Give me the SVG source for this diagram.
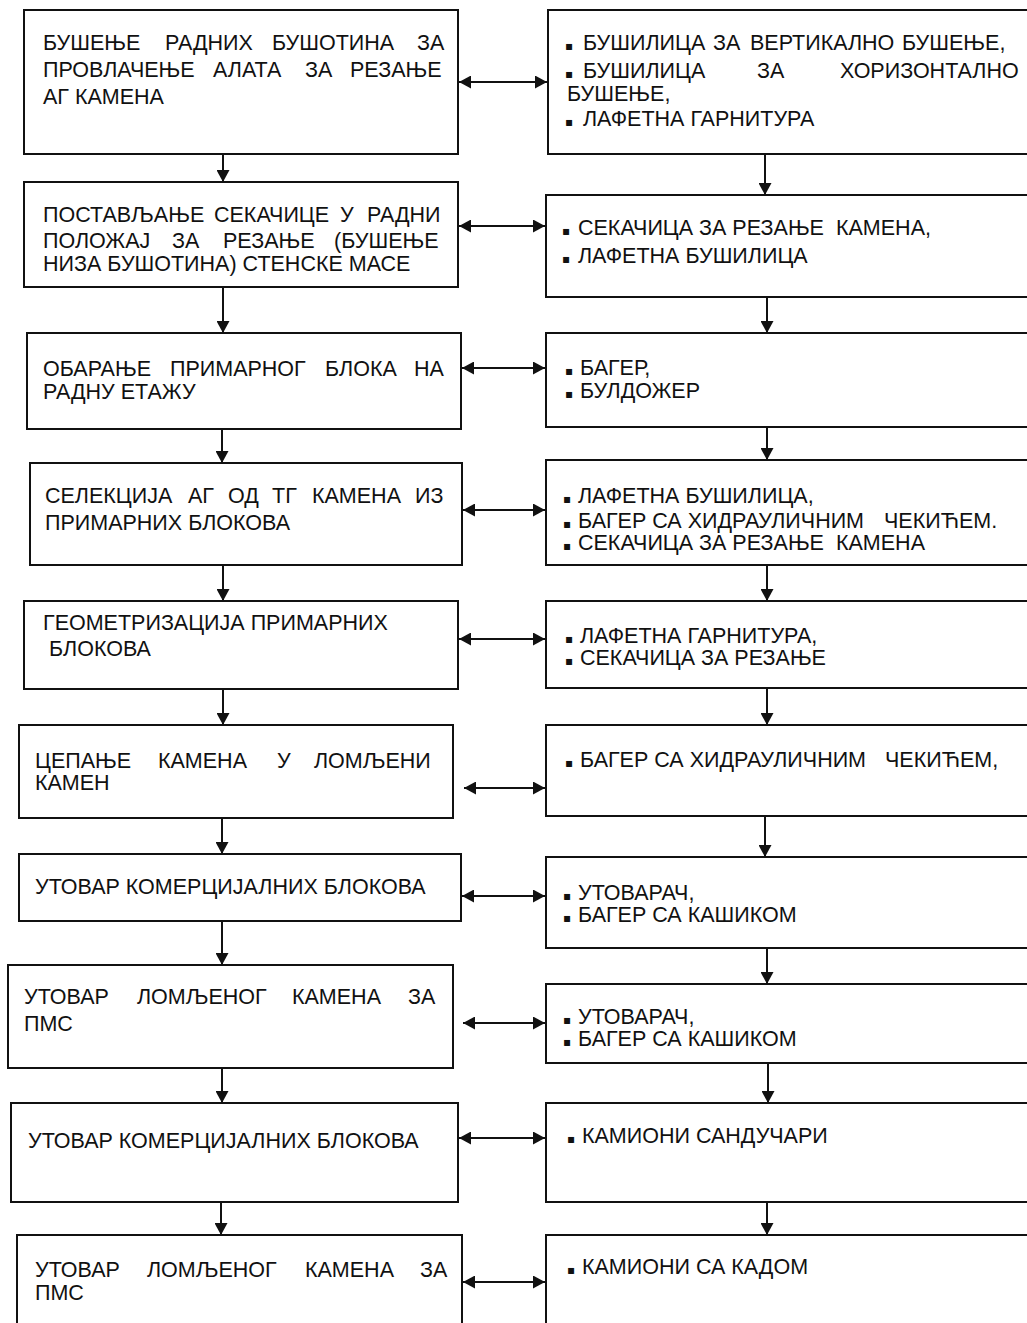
<svg xmlns="http://www.w3.org/2000/svg" width="1027" height="1323" viewBox="0 0 1027 1323">
<style>
.box{fill:#fff;stroke:#111;stroke-width:2}
.t{font-family:"Liberation Sans",Arial,sans-serif;font-size:21.5px;fill:#111}
.b{font-family:"DejaVu Sans",sans-serif;font-size:12px}
.c{stroke:#111;stroke-width:2;fill:none}
</style>
<defs>
<marker id="ah" markerUnits="userSpaceOnUse" markerWidth="13" markerHeight="13" refX="12" refY="6.5" orient="auto-start-reverse">
<path d="M0,0 L12,6.5 L0,13 z" fill="#111"/>
</marker>
</defs>
<rect width="1027" height="1323" fill="#fff"/>

<g id="connectors">
<line class="c" x1="223" y1="154" x2="223" y2="182" marker-end="url(#ah)"/>
<line class="c" x1="223" y1="287" x2="223" y2="333" marker-end="url(#ah)"/>
<line class="c" x1="222" y1="429" x2="222" y2="463" marker-end="url(#ah)"/>
<line class="c" x1="223" y1="565" x2="223" y2="601" marker-end="url(#ah)"/>
<line class="c" x1="223" y1="689" x2="223" y2="725" marker-end="url(#ah)"/>
<line class="c" x1="222" y1="818" x2="222" y2="854" marker-end="url(#ah)"/>
<line class="c" x1="222" y1="921" x2="222" y2="965" marker-end="url(#ah)"/>
<line class="c" x1="222" y1="1068" x2="222" y2="1103" marker-end="url(#ah)"/>
<line class="c" x1="221" y1="1202" x2="221" y2="1235" marker-end="url(#ah)"/>

<line class="c" x1="765" y1="154" x2="765" y2="195" marker-end="url(#ah)"/>
<line class="c" x1="767" y1="297" x2="767" y2="333" marker-end="url(#ah)"/>
<line class="c" x1="767" y1="427" x2="767" y2="460" marker-end="url(#ah)"/>
<line class="c" x1="767" y1="565" x2="767" y2="601" marker-end="url(#ah)"/>
<line class="c" x1="767" y1="688" x2="767" y2="725" marker-end="url(#ah)"/>
<line class="c" x1="765" y1="816" x2="765" y2="857" marker-end="url(#ah)"/>
<line class="c" x1="767" y1="948" x2="767" y2="984" marker-end="url(#ah)"/>
<line class="c" x1="768" y1="1063" x2="768" y2="1103" marker-end="url(#ah)"/>
<line class="c" x1="767" y1="1202" x2="767" y2="1235" marker-end="url(#ah)"/>

<line class="c" x1="459" y1="82" x2="547" y2="82" marker-start="url(#ah)" marker-end="url(#ah)"/>
<line class="c" x1="459" y1="226" x2="545" y2="226" marker-start="url(#ah)" marker-end="url(#ah)"/>
<line class="c" x1="462" y1="368" x2="545" y2="368" marker-start="url(#ah)" marker-end="url(#ah)"/>
<line class="c" x1="463" y1="510" x2="545" y2="510" marker-start="url(#ah)" marker-end="url(#ah)"/>
<line class="c" x1="459" y1="639" x2="545" y2="639" marker-start="url(#ah)" marker-end="url(#ah)"/>
<line class="c" x1="464" y1="788" x2="545" y2="788" marker-start="url(#ah)" marker-end="url(#ah)"/>
<line class="c" x1="462" y1="896" x2="545" y2="896" marker-start="url(#ah)" marker-end="url(#ah)"/>
<line class="c" x1="463" y1="1023" x2="545" y2="1023" marker-start="url(#ah)" marker-end="url(#ah)"/>
<line class="c" x1="459" y1="1138" x2="545" y2="1138" marker-start="url(#ah)" marker-end="url(#ah)"/>
<line class="c" x1="463" y1="1282" x2="545" y2="1282" marker-start="url(#ah)" marker-end="url(#ah)"/>
</g>

<g id="l1"><rect class="box" x="24" y="10" width="434" height="144"/>
<text class="t" y="50"><tspan x="43">БУШЕЊЕ</tspan><tspan x="165">РАДНИХ</tspan><tspan x="272">БУШОТИНА</tspan><tspan x="417">ЗА</tspan></text>
<text class="t" y="77"><tspan x="43">ПРОВЛАЧЕЊЕ</tspan><tspan x="213">АЛАТА</tspan><tspan x="305">ЗА</tspan><tspan x="350">РЕЗАЊЕ</tspan></text>
<text class="t" x="43" y="104">АГ КАМЕНА</text></g>

<g id="l2"><rect class="box" x="24" y="182" width="434" height="105"/>
<text class="t" y="222"><tspan x="43">ПОСТАВЉАЊЕ</tspan><tspan x="214">СЕКАЧИЦЕ</tspan><tspan x="340">У</tspan><tspan x="367">РАДНИ</tspan></text>
<text class="t" y="248"><tspan x="43">ПОЛОЖАЈ</tspan><tspan x="172">ЗА</tspan><tspan x="223">РЕЗАЊЕ</tspan><tspan x="334">(БУШЕЊЕ</tspan></text>
<text class="t" x="43" y="271">НИЗА БУШОТИНА) СТЕНСКЕ МАСЕ</text></g>

<g id="l3"><rect class="box" x="27" y="333" width="434" height="96"/>
<text class="t" y="376"><tspan x="43">ОБАРАЊЕ</tspan><tspan x="170">ПРИМАРНОГ</tspan><tspan x="325">БЛОКА</tspan><tspan x="414">НА</tspan></text>
<text class="t" x="43" y="399">РАДНУ ЕТАЖУ</text></g>

<g id="l4"><rect class="box" x="30" y="463" width="432" height="102"/>
<text class="t" y="503"><tspan x="45">СЕЛЕКЦИЈА</tspan><tspan x="188">АГ</tspan><tspan x="228">ОД</tspan><tspan x="272">ТГ</tspan><tspan x="312">КАМЕНА</tspan><tspan x="415">ИЗ</tspan></text>
<text class="t" x="45" y="530">ПРИМАРНИХ БЛОКОВА</text></g>

<g id="l5"><rect class="box" x="24" y="601" width="434" height="88"/>
<text class="t" x="43" y="630">ГЕОМЕТРИЗАЦИЈА ПРИМАРНИХ</text>
<text class="t" x="49" y="656">БЛОКОВА</text></g>

<g id="l6"><rect class="box" x="19" y="725" width="434" height="93"/>
<text class="t" y="768"><tspan x="35">ЦЕПАЊЕ</tspan><tspan x="158">КАМЕНА</tspan><tspan x="277">У</tspan><tspan x="314">ЛОМЉЕНИ</tspan></text>
<text class="t" x="35" y="790">КАМЕН</text></g>

<g id="l7"><rect class="box" x="19" y="854" width="442" height="67"/>
<text class="t" x="35" y="894">УТОВАР КОМЕРЦИЈАЛНИХ БЛОКОВА</text></g>

<g id="l8"><rect class="box" x="8" y="965" width="445" height="103"/>
<text class="t" y="1004"><tspan x="24">УТОВАР</tspan><tspan x="137">ЛОМЉЕНОГ</tspan><tspan x="292">КАМЕНА</tspan><tspan x="408">ЗА</tspan></text>
<text class="t" x="24" y="1031">ПМС</text></g>

<g id="l9"><rect class="box" x="11" y="1103" width="447" height="99"/>
<text class="t" x="28" y="1148">УТОВАР КОМЕРЦИЈАЛНИХ БЛОКОВА</text></g>

<g id="l10"><rect class="box" x="17" y="1235" width="445" height="100"/>
<text class="t" y="1277"><tspan x="35">УТОВАР</tspan><tspan x="147">ЛОМЉЕНОГ</tspan><tspan x="305">КАМЕНА</tspan><tspan x="420">ЗА</tspan></text>
<text class="t" x="35" y="1300">ПМС</text></g>

<g id="r1"><rect class="box" x="548" y="10" width="500" height="144"/>
<text class="t" y="50"><tspan class="b" x="565">▪</tspan><tspan x="583">БУШИЛИЦА</tspan><tspan x="713">ЗА</tspan><tspan x="750">ВЕРТИКАЛНО</tspan><tspan x="902">БУШЕЊЕ,</tspan></text>
<text class="t" y="78"><tspan class="b" x="565">▪</tspan><tspan x="583">БУШИЛИЦА</tspan><tspan x="757">ЗА</tspan><tspan x="840">ХОРИЗОНТАЛНО</tspan></text>
<text class="t" x="567" y="101">БУШЕЊЕ,</text>
<text class="t" y="126"><tspan class="b" x="565">▪</tspan><tspan x="583">ЛАФЕТНА ГАРНИТУРА</tspan></text></g>

<g id="r2"><rect class="box" x="546" y="195" width="502" height="102"/>
<text class="t" y="235"><tspan class="b" x="562">▪</tspan><tspan x="578">СЕКАЧИЦА ЗА РЕЗАЊЕ</tspan><tspan x="836">КАМЕНА,</tspan></text>
<text class="t" y="263"><tspan class="b" x="562">▪</tspan><tspan x="578">ЛАФЕТНА БУШИЛИЦА</tspan></text></g>

<g id="r3"><rect class="box" x="546" y="333" width="502" height="94"/>
<text class="t" y="375"><tspan class="b" x="565">▪</tspan><tspan x="580">БАГЕР,</tspan></text>
<text class="t" y="398"><tspan class="b" x="565">▪</tspan><tspan x="580">БУЛДОЖЕР</tspan></text></g>

<g id="r4"><rect class="box" x="546" y="460" width="502" height="105"/>
<text class="t" y="503"><tspan class="b" x="563">▪</tspan><tspan x="578">ЛАФЕТНА БУШИЛИЦА,</tspan></text>
<text class="t" y="528"><tspan class="b" x="563">▪</tspan><tspan x="578">БАГЕР СА ХИДРАУЛИЧНИМ</tspan><tspan x="884">ЧЕКИЋЕМ.</tspan></text>
<text class="t" y="550"><tspan class="b" x="563">▪</tspan><tspan x="578">СЕКАЧИЦА ЗА РЕЗАЊЕ</tspan><tspan x="836">КАМЕНА</tspan></text></g>

<g id="r5"><rect class="box" x="546" y="601" width="502" height="87"/>
<text class="t" y="643"><tspan class="b" x="565">▪</tspan><tspan x="580">ЛАФЕТНА ГАРНИТУРА,</tspan></text>
<text class="t" y="665"><tspan class="b" x="565">▪</tspan><tspan x="580">СЕКАЧИЦА ЗА РЕЗАЊЕ</tspan></text></g>

<g id="r6"><rect class="box" x="546" y="725" width="502" height="91"/>
<text class="t" y="767"><tspan class="b" x="565">▪</tspan><tspan x="580">БАГЕР СА ХИДРАУЛИЧНИМ</tspan><tspan x="885">ЧЕКИЋЕМ,</tspan></text></g>

<g id="r7"><rect class="box" x="546" y="857" width="502" height="91"/>
<text class="t" y="900"><tspan class="b" x="563">▪</tspan><tspan x="578">УТОВАРАЧ,</tspan></text>
<text class="t" y="922"><tspan class="b" x="563">▪</tspan><tspan x="578">БАГЕР СА КАШИКОМ</tspan></text></g>

<g id="r8"><rect class="box" x="546" y="984" width="502" height="79"/>
<text class="t" y="1024"><tspan class="b" x="563">▪</tspan><tspan x="578">УТОВАРАЧ,</tspan></text>
<text class="t" y="1046"><tspan class="b" x="563">▪</tspan><tspan x="578">БАГЕР СА КАШИКОМ</tspan></text></g>

<g id="r9"><rect class="box" x="546" y="1103" width="502" height="99"/>
<text class="t" y="1143"><tspan class="b" x="567">▪</tspan><tspan x="582">КАМИОНИ САНДУЧАРИ</tspan></text></g>

<g id="r10"><rect class="box" x="546" y="1235" width="502" height="100"/>
<text class="t" y="1274"><tspan class="b" x="567">▪</tspan><tspan x="582">КАМИОНИ СА КАДОМ</tspan></text></g>
</svg>
